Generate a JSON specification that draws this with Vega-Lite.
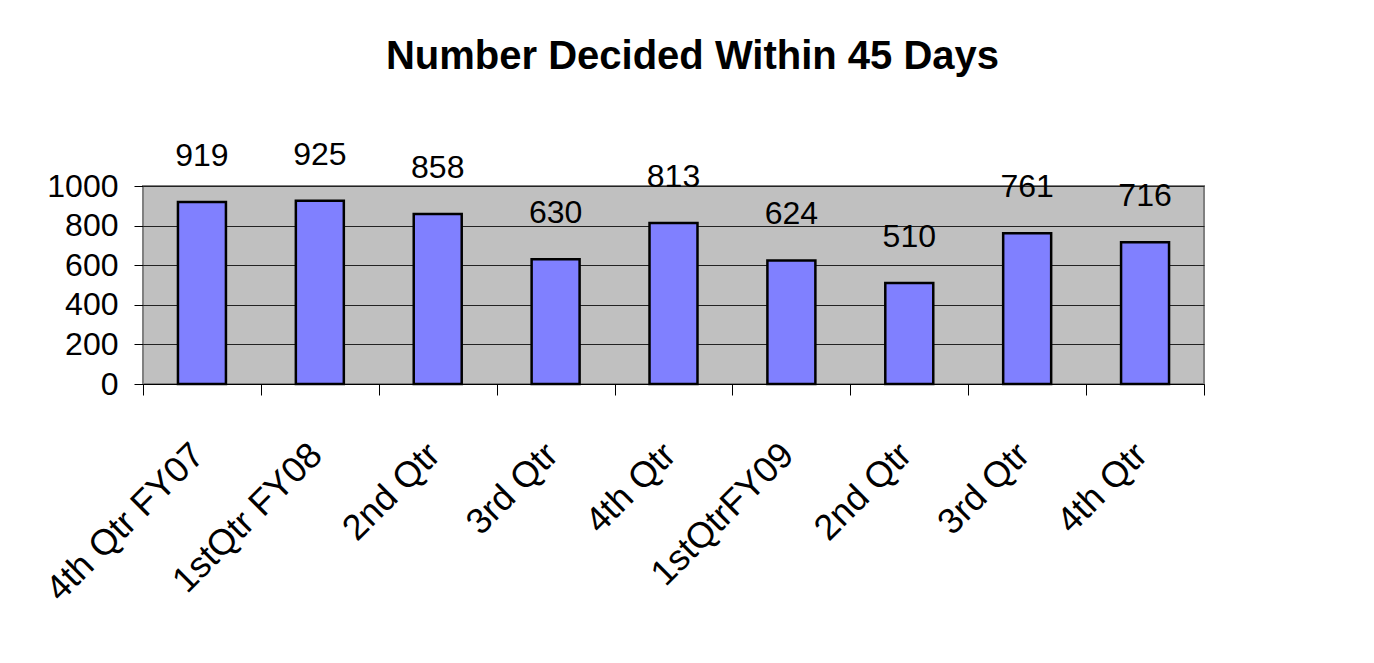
{
  "$schema": "https://vega.github.io/schema/vega-lite/v6.json",
  "autosize": {"type": "none"},
  "padding": {"left": 143, "top": 186, "right": 170, "bottom": 279},
  "width": 1061,
  "height": 198,
  "background": "white",
  "title": {
    "text": "Number Decided Within 45 Days",
    "font": "Liberation Sans",
    "fontSize": 40,
    "fontWeight": "bold",
    "color": "black",
    "anchor": "middle",
    "frame": "group",
    "baseline": "alphabetic",
    "offset": 30,
    "dx": 19
  },
  "data": {
    "values": [
      {"quarter": "4th Qtr FY07", "order": 1, "value": 919},
      {"quarter": "1stQtr FY08", "order": 2, "value": 925},
      {"quarter": "2nd Qtr", "order": 3, "value": 858},
      {"quarter": "3rd Qtr", "order": 4, "value": 630},
      {"quarter": "4th Qtr", "order": 5, "value": 813},
      {"quarter": "1stQtrFY09", "order": 6, "value": 624},
      {"quarter": "2nd Qtr ", "order": 7, "value": 510},
      {"quarter": "3rd Qtr ", "order": 8, "value": 761},
      {"quarter": "4th Qtr ", "order": 9, "value": 716}
    ]
  },
  "encoding": {
    "x": {
      "field": "quarter",
      "type": "nominal",
      "sort": {"field": "order"},
      "scale": {"paddingInner": 0, "paddingOuter": 0},
      "axis": {
        "title": null,
        "labelAngle": -45,
        "labelAlign": "right",
        "labelBaseline": "middle",
        "labelFont": "Liberation Sans",
        "labelFontSize": 36,
        "labelColor": "black",
        "labelPadding": 54,
        "labelOffset": -4,
        "labelOverlap": false,
        "labelLimit": 400,
        "tickBand": "extent",
        "tickSize": 11,
        "tickColor": "black",
        "tickWidth": 1,
        "domainColor": "black",
        "domainWidth": 1,
        "grid": false
      }
    },
    "y": {
      "field": "value",
      "type": "quantitative",
      "scale": {"domain": [0, 1000], "nice": false},
      "axis": {
        "title": null,
        "values": [0, 200, 400, 600, 800, 1000],
        "format": "d",
        "labelFont": "Liberation Sans",
        "labelFontSize": 32,
        "labelColor": "black",
        "labelPadding": 16,
        "labelBaseline": "middle",
        "tickSize": 9,
        "tickColor": "black",
        "tickWidth": 1,
        "domain": false,
        "grid": true,
        "gridColor": "#222222",
        "gridWidth": 1,
        "gridOpacity": 1
      }
    }
  },
  "layer": [
    {
      "mark": {"type": "bar", "fill": "#8080FF", "stroke": "black", "strokeWidth": 2.5, "width": {"band": 0.407}}
    },
    {
      "mark": {
        "type": "text",
        "font": "Liberation Sans",
        "fontSize": 32,
        "color": "black",
        "baseline": "alphabetic",
        "align": "center",
        "dy": -36
      },
      "encoding": {"text": {"field": "value", "type": "quantitative"}}
    }
  ],
  "config": {
    "view": {"fill": "#C0C0C0", "stroke": "#808080", "strokeWidth": 2}
  }
}
